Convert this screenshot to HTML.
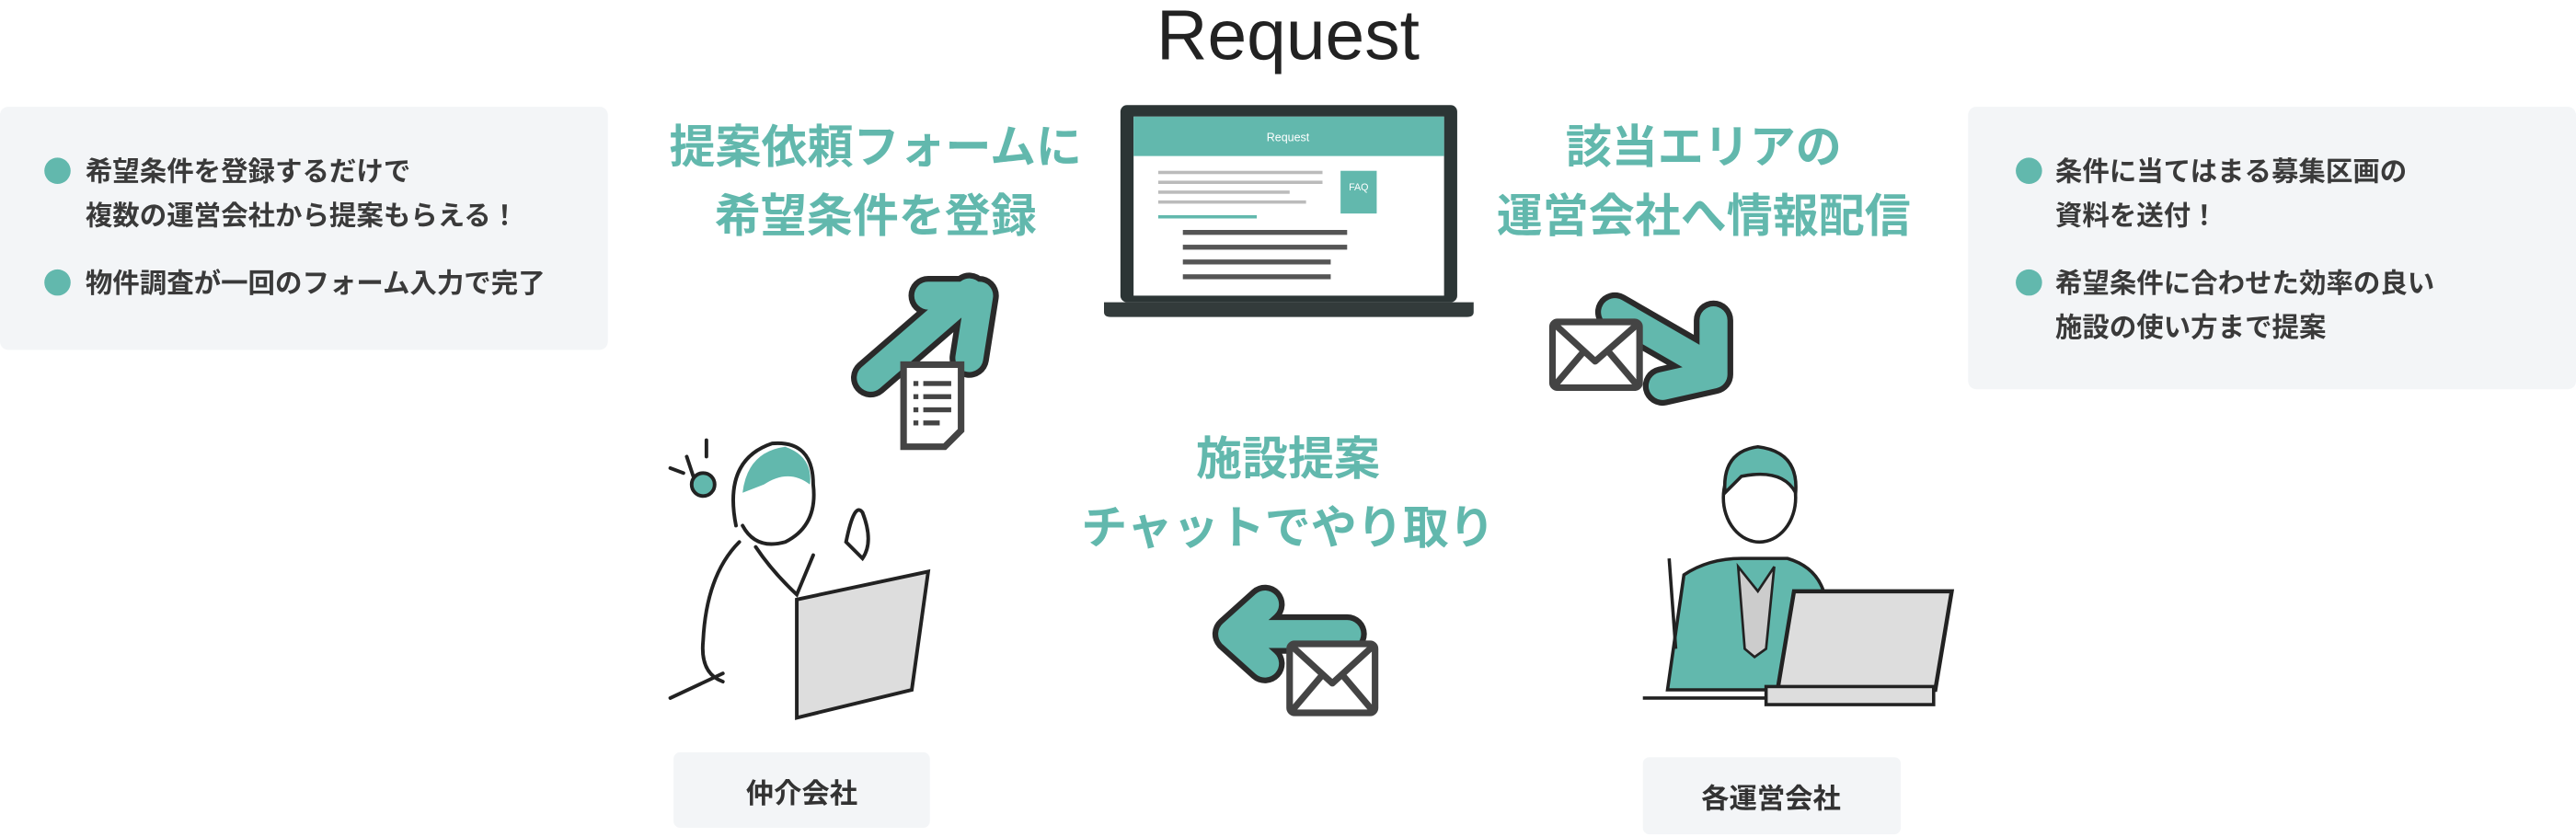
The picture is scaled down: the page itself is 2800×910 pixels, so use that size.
<!DOCTYPE html>
<html><head><meta charset="utf-8"><style>
html,body{margin:0;padding:0;background:#fff;}
svg{display:block}
text{font-family:"Liberation Sans","Noto Sans CJK JP",sans-serif;}
</style></head><body>
<svg width="2800" height="910" viewBox="0 0 1568 509.6" xmlns="http://www.w3.org/2000/svg">
<rect x="0" y="65" width="370" height="148" rx="5" fill="#f3f5f7"/>
<g font-size="16.5" fill="#3a3a3a" font-weight="700">
<circle cx="35" cy="104" r="8" fill="#62b8ad"/>
<text x="52" y="110">希望条件を登録するだけで</text>
<text x="52" y="137">複数の運営会社から提案もらえる！</text>
<circle cx="35" cy="172" r="8" fill="#62b8ad"/>
<text x="52" y="178">物件調査が一回のフォーム入力で完了</text>
</g>
<rect x="1198" y="65" width="370" height="172" rx="5" fill="#f3f5f7"/>
<g font-size="16.5" fill="#3a3a3a" font-weight="700">
<circle cx="1235" cy="104" r="8" fill="#62b8ad"/>
<text x="1251" y="110">条件に当てはまる募集区画の</text>
<text x="1251" y="137">資料を送付！</text>
<circle cx="1235" cy="172" r="8" fill="#62b8ad"/>
<text x="1251" y="178">希望条件に合わせた効率の良い</text>
<text x="1251" y="205">施設の使い方まで提案</text>
</g>
<text x="784" y="36" font-size="43" fill="#222" text-anchor="middle" font-family="Liberation Sans,sans-serif">Request</text>
<g font-size="28" font-weight="700" fill="#62b8ad" text-anchor="middle">
<text x="533" y="99">提案依頼フォームに</text>
<text x="533" y="141">希望条件を登録</text>
<text x="1037" y="99">該当エリアの</text>
<text x="1037" y="141">運営会社へ情報配信</text>
<text x="784" y="289">施設提案</text>
<text x="784" y="331">チャットでやり取り</text>
</g>
<rect x="682" y="64" width="205" height="120" rx="4" fill="#2c3535"/>
<rect x="690" y="71" width="189" height="109" fill="#fff"/>
<rect x="690" y="71" width="189" height="24" fill="#62b8ad"/>
<text x="784" y="86" font-size="7" fill="#fff" text-anchor="middle">Request</text>
<rect x="816" y="104" width="22" height="26" fill="#62b8ad"/>
<text x="827" y="116" font-size="6" fill="#fff" text-anchor="middle">FAQ</text>
<g fill="#bbb"><rect x="705" y="104" width="100" height="2"/><rect x="705" y="110" width="100" height="2"/><rect x="705" y="116" width="80" height="2"/><rect x="705" y="122" width="90" height="2"/><rect x="705" y="131" width="60" height="2" fill="#62b8ad"/>
<rect x="720" y="140" width="100" height="3" fill="#555"/><rect x="720" y="149" width="100" height="3" fill="#555"/><rect x="720" y="158" width="90" height="3" fill="#555"/><rect x="720" y="167" width="90" height="3" fill="#555"/></g>
<path d="M672 184 H897 V190 Q897 193 893 193 H676 Q672 193 672 190Z" fill="#333b3b"/>
<g fill="none" stroke-linecap="round" stroke-linejoin="round">
<path d="M530 230 L590 178 M565 180 L596 180 L590 218" stroke="#2a2a2a" stroke-width="24"/>
<path d="M530 230 L590 178 M565 180 L596 180 L590 218" stroke="#62b8ad" stroke-width="17"/>
<path d="M983 190 L1035 220 M1043 195 L1043 228 L1012 235" stroke="#2a2a2a" stroke-width="24"/>
<path d="M983 190 L1035 220 M1043 195 L1043 228 L1012 235" stroke="#62b8ad" stroke-width="17"/>
<path d="M820 386 L752 386 M770 368 L750 386 L770 404" stroke="#2a2a2a" stroke-width="24"/>
<path d="M820 386 L752 386 M770 368 L750 386 L770 404" stroke="#62b8ad" stroke-width="17"/>
</g>
<path d="M550 222 H585 V262 L575 272 H550Z" fill="#fff" stroke="#444" stroke-width="4"/>
<g fill="#444"><rect x="556" y="232" width="3" height="3"/><rect x="562" y="232" width="17" height="3"/><rect x="556" y="240" width="3" height="3"/><rect x="562" y="240" width="17" height="3"/><rect x="556" y="248" width="3" height="3"/><rect x="562" y="248" width="17" height="3"/><rect x="556" y="256" width="3" height="3"/><rect x="562" y="256" width="10" height="3"/></g>
<g fill="#fff" stroke="#444" stroke-width="4" stroke-linejoin="round">
<rect x="945" y="196" width="53" height="40" rx="3"/><path d="M947 198 L971 220 L996 198 M947 234 L964 214 M996 234 L979 214" fill="none"/>
<rect x="785" y="392" width="52" height="42" rx="3"/><path d="M787 394 L811 416 L835 394 M787 432 L804 412 M835 432 L818 412" fill="none"/>
</g>
<g stroke="#222" stroke-width="2.2" fill="none" stroke-linecap="round">
<path d="M448 320 Q440 280 470 270 Q495 268 495 295 Q498 320 478 330 Q460 335 452 320" fill="#fff"/>
<path d="M452 300 Q455 275 478 272 Q495 278 493 295 Q480 285 465 295 Z" fill="#62b8ad" stroke="none"/>
<path d="M450 330 Q430 350 428 390 Q426 410 440 415"/>
<path d="M460 333 Q470 348 485 362 L495 338"/>
<path d="M408 425 L440 410"/>
<path d="M418 278 L422 290 M408 285 L416 288 M430 268 L430 278" />
<circle cx="428" cy="295" r="7" fill="#62b8ad"/>
<path d="M515 330 Q520 305 525 312 Q532 330 525 340 Z" fill="#fff"/>
</g>
<path d="M485 365 L565 348 L555 420 L485 437Z" fill="#ddd" stroke="#222" stroke-width="2.2"/>
<path d="M1015 420 L1025 350 Q1040 340 1060 340 L1088 340 Q1105 345 1110 360 L1115 420Z" fill="#62b8ad" stroke="#222" stroke-width="2"/>
<path d="M1058 345 L1070 360 L1080 345 L1075 395 L1068 400 L1062 395Z" fill="#ccc" stroke="#222" stroke-width="1.5"/>
<ellipse cx="1071" cy="303" rx="22" ry="27" fill="#fff" stroke="#222" stroke-width="2"/>
<path d="M1050 300 Q1048 275 1070 272 Q1095 275 1093 300 Q1085 285 1060 290Z" fill="#62b8ad" stroke="#222" stroke-width="2"/>
<path d="M1016 340 L1020 395" stroke="#222" stroke-width="2"/>
<path d="M1092 360 L1188 360 L1178 420 L1082 420Z" fill="#ddd" stroke="#222" stroke-width="2.5"/>
<rect x="1075" y="418" width="102" height="11" fill="#ddd" stroke="#222" stroke-width="2"/>
<path d="M1000 425 H1075" stroke="#222" stroke-width="2"/>
<rect x="410" y="458" width="156" height="46" rx="4" fill="#f3f5f7"/>
<text x="488" y="489" font-size="17" font-weight="700" fill="#333" text-anchor="middle">仲介会社</text>
<rect x="1000" y="461" width="157" height="47" rx="4" fill="#f3f5f7"/>
<text x="1078" y="492" font-size="17" font-weight="700" fill="#333" text-anchor="middle">各運営会社</text>
</svg>
</body></html>
